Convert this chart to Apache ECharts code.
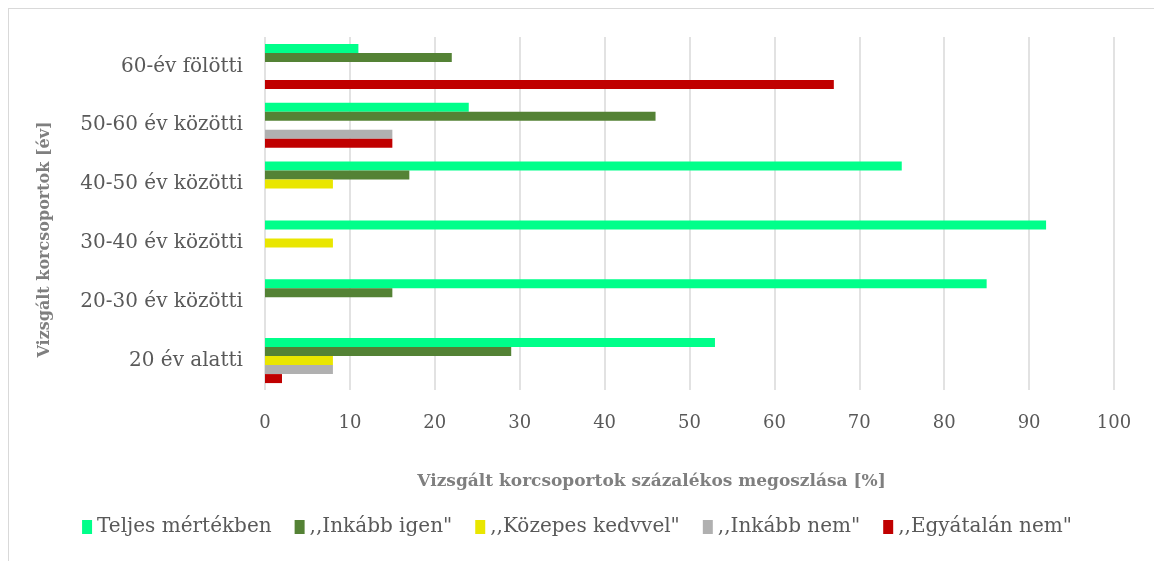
<!DOCTYPE html>
<html>
<head>
<meta charset="utf-8">
<script src="https://cdn.jsdelivr.net/npm/echarts@6/dist/echarts.min.js"></script>
<style>
  html, body { margin: 0; padding: 0; background: #fff; }
  #box { position: absolute; left: 8px; top: 8px; width: 1160px; height: 560px; border-left: 1px solid #d9d9d9; border-top: 1px solid #d9d9d9; }
  #chart { width: 1154px; height: 561px; }
</style>
</head>
<body>
<div id="box"></div>
<div id="chart"></div>
<script>
// korcsoportok, alulrol felfele
const categories = ['20 év alatti', '20-30 év közötti', '30-40 év közötti', '40-50 év közötti', '50-60 év közötti', '60-év fölötti']
const seriesNames = ['Teljes mértékben', ',,Inkább igen"', ',,Közepes kedvvel"', ',,Inkább nem"', ',,Egyátalán nem"']
const teljes = [53, 85, 92, 75, 24, 11]
const inkabbIgen = [29, 15, 0, 17, 46, 22]
const kozepes = [8, 0, 8, 8, 0, 0]
const inkabbNem = [8, 0, 0, 0, 15, 0]
const egyaltalan = [2, 0, 0, 0, 15, 67]
const xTicks = [0, 10, 20, 30, 40, 50, 60, 70, 80, 90, 100]

const colors = ['#00ff8a', '#548235', '#e9e600', '#b0b0b0', '#c00000']
const values = [teljes, inkabbIgen, kozepes, inkabbNem, egyaltalan]
const font = 'DejaVu Serif'

let chart = echarts.init(document.getElementById('chart'))
chart.setOption({
  animation: false,
  grid: { left: 265, right: 40, top: 37, bottom: 171 },
  legend: {
    bottom: 19,
    left: 'center',
    icon: 'rect',
    itemWidth: 10,
    itemHeight: 14,
    itemGap: 23,
    textStyle: { color: '#595959', fontFamily: font, fontSize: 20 },
    data: seriesNames
  },
  xAxis: {
    type: 'value',
    min: xTicks[0],
    max: xTicks[xTicks.length - 1],
    interval: 10,
    name: 'Vizsgált korcsoportok százalékos megoszlása [%]',
    nameLocation: 'middle',
    nameGap: 83,
    nameTextStyle: { color: '#7f7f7f', fontFamily: font, fontSize: 17, fontWeight: 'bold', padding: [0, 76, 0, 0] },
    axisLine: { show: false },
    axisTick: { show: false },
    axisLabel: { color: '#595959', fontFamily: font, fontSize: 18, margin: 24 },
    splitLine: { lineStyle: { color: '#d9d9d9', width: 1.5 } }
  },
  yAxis: {
    type: 'category',
    data: categories,
    name: 'Vizsgált korcsoportok [év]',
    nameLocation: 'middle',
    nameGap: 212,
    nameRotate: 90,
    nameTextStyle: { color: '#7f7f7f', fontFamily: font, fontSize: 16, fontWeight: 'bold', padding: [0, 52, 0, 0] },
    axisLine: { show: false },
    axisTick: { show: false },
    axisLabel: { color: '#595959', fontFamily: font, fontSize: 20, margin: 22 },
    splitLine: { show: false }
  },
  series: seriesNames.map((name, i) => ({
    name: name,
    type: 'bar',
    barWidth: 9,
    barGap: '0%',
    itemStyle: { color: colors[i] },
    data: values[i].map(v => v === 0 ? null : v)
  }))
})
</script>
</body>
</html>
